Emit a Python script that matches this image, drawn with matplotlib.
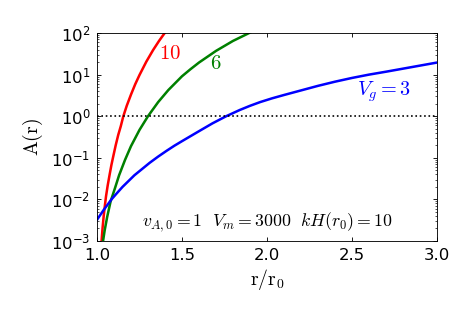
import numpy as np
import matplotlib
matplotlib.use('Agg')
import matplotlib.pyplot as plt

plt.rcParams['mathtext.fontset'] = 'cm'
plt.rcParams['font.family'] = 'DejaVu Sans'

# curves: r/r0 and log10 A(r)
r_red = [1.02, 1.027, 1.033, 1.04, 1.047, 1.053, 1.063, 1.075, 1.085, 1.096, 1.11, 1.125,
         1.14, 1.155, 1.175, 1.20, 1.225, 1.25, 1.29, 1.33, 1.365, 1.40, 1.45]
logA_red = [-3.4, -3.0, -2.68, -2.38, -2.13, -1.93, -1.665, -1.39, -1.17, -0.96, -0.70, -0.45,
            -0.24, 0.0, 0.25, 0.52, 0.77, 0.99, 1.31, 1.59, 1.81, 2.01, 2.27]

r_green = [1.025, 1.035, 1.045, 1.06, 1.08, 1.105, 1.13, 1.165, 1.20, 1.25, 1.30, 1.36, 1.42,
           1.50, 1.55, 1.60, 1.65, 1.70, 1.75, 1.80, 1.85, 1.90, 1.95]
logA_green = [-3.4, -3.02, -2.75, -2.42, -2.05, -1.74, -1.42, -1.05, -0.72, -0.33, 0.0, 0.34, 0.63,
              0.96, 1.13, 1.29, 1.43, 1.57, 1.69, 1.81, 1.91, 2.01, 2.10]

r_blue = [1.0, 1.02, 1.04, 1.06, 1.085, 1.115, 1.15, 1.185, 1.22, 1.265, 1.31, 1.36, 1.41, 1.455,
          1.5, 1.55, 1.6, 1.68, 1.76, 1.84, 1.9, 1.96, 2.03, 2.1, 2.2, 2.3, 2.4, 2.5, 2.6, 2.7,
          2.775, 2.85, 2.925, 3.0]
logA_blue = [-2.49, -2.37, -2.25, -2.14, -2.0, -1.86, -1.7, -1.56, -1.42, -1.27, -1.12, -0.97,
             -0.83, -0.71, -0.6, -0.48, -0.36, -0.17, 0.0, 0.15, 0.25, 0.34, 0.43, 0.51, 0.62,
             0.73, 0.83, 0.92, 1.0, 1.07, 1.125, 1.18, 1.235, 1.29]

xticks = [1.0, 1.5, 2.0, 2.5, 3.0]

fig = plt.figure(figsize=(6, 4), dpi=79)
ax = fig.add_axes([0.2046, 0.2373, 0.7173, 0.6582])

ax.plot(r_red, 10**np.array(logA_red), color='red', lw=2.3)
ax.plot(r_green, 10**np.array(logA_green), color='green', lw=2.3)
ax.plot(r_blue, 10**np.array(logA_blue), color='blue', lw=2.3)
ax.axhline(1.0, color='black', ls=':', lw=1.5)

ax.set_yscale('log')
ax.set_xlim(1.0, 3.0)
ax.set_ylim(1e-3, 1e2)
ax.set_xticks(xticks)
ax.tick_params(which='both', direction='in', top=True, right=True, labelsize=15)
ax.tick_params(which='major', length=4, pad=6)
ax.tick_params(which='minor', length=2)

ax.text(1.43, 10**1.51, r'$10$', color='red', fontsize=19, ha='center', va='center')
ax.text(1.70, 10**1.27, r'$6$', color='green', fontsize=19, ha='center', va='center')
ax.text(2.69, 10**0.58, r'$V_g=3$', color='blue', fontsize=18.5, ha='center', va='center')
ax.text(2.0, 10**-2.55, r'$v_{A,0}=1\ \ V_m=3000\ \ kH(r_0)=10$', color='black',
        fontsize=16.2, ha='center', va='center')

ax.set_xlabel(r'$\rm r/r_0$', fontsize=18, labelpad=4)
ax.set_ylabel(r'$\rm A(r)$', fontsize=18, labelpad=6)

plt.savefig('out.png', dpi=79)
